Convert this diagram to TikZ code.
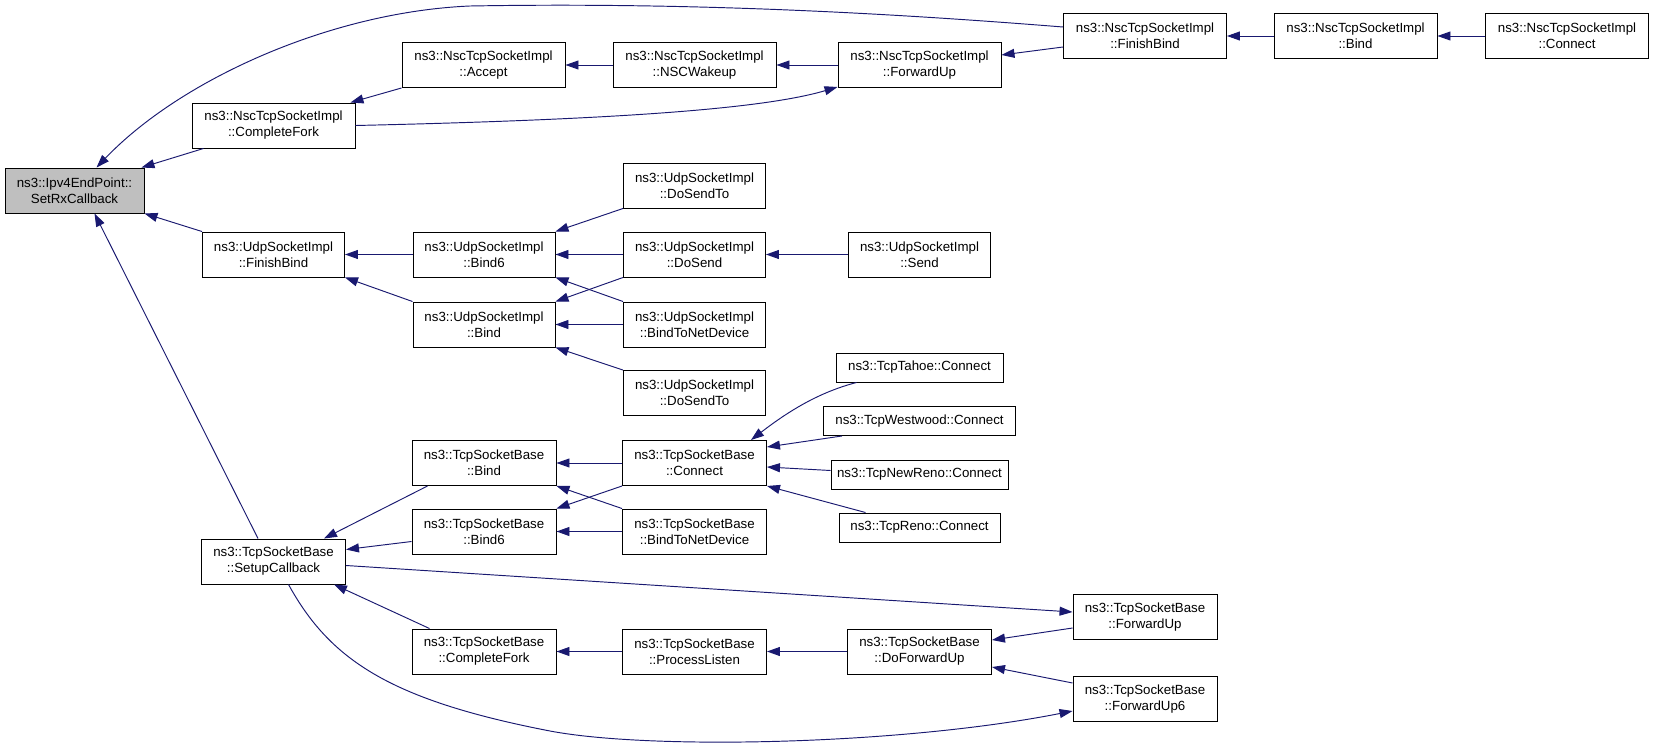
\documentclass[tikz,border=0pt]{standalone}
\usepackage{fontspec}
\setmainfont{Liberation Sans}
\usetikzlibrary{arrows.meta,calc}
\definecolor{edgeblue}{RGB}{25,25,112}
\definecolor{rootgray}{RGB}{191,191,191}
\begin{document}
\begin{tikzpicture}[x=1pt,y=-1pt,
  box/.style={draw=black, line width=0.95pt, fill=white, align=center, inner sep=0pt,
    font=\fontsize{13.3}{16}\selectfont, minimum height=45pt},
  nsc/.style={box, minimum width=163pt},
  udp/.style={box, minimum width=142pt},
  tcp/.style={box, minimum width=144pt},
  one/.style={box, minimum height=29pt},
  root/.style={box, fill=rootgray, minimum width=139pt},
  edge/.style={draw=edgeblue, line width=0.95pt, -{Triangle[length=13pt,width=9pt]}}]
\useasboundingbox (0,0) rectangle (1653,752);
% root
\node[root] (setrx) at (74.5,190.5) {ns3::Ipv4EndPoint::\\SetRxCallback};
% Nsc branch
\node[nsc] (nsccf) at (273.5,125.5) {ns3::NscTcpSocketImpl\\::CompleteFork};
\node[nsc] (nscacc) at (483.5,65) {ns3::NscTcpSocketImpl\\::Accept};
\node[nsc] (nscwake) at (694.5,65) {ns3::NscTcpSocketImpl\\::NSCWakeup};
\node[nsc] (nscfwd) at (919.5,65) {ns3::NscTcpSocketImpl\\::ForwardUp};
\node[nsc] (nscfb) at (1145,36) {ns3::NscTcpSocketImpl\\::FinishBind};
\node[nsc] (nscbind) at (1355.5,36) {ns3::NscTcpSocketImpl\\::Bind};
\node[nsc] (nscconn) at (1567,36) {ns3::NscTcpSocketImpl\\::Connect};
% Udp branch
\node[udp] (udpfb) at (273.5,254.5) {ns3::UdpSocketImpl\\::FinishBind};
\node[udp] (udpbind6) at (484,254.5) {ns3::UdpSocketImpl\\::Bind6};
\node[udp] (udpbind) at (484,324.5) {ns3::UdpSocketImpl\\::Bind};
\node[udp] (udpdst) at (694.5,185.5) {ns3::UdpSocketImpl\\::DoSendTo};
\node[udp] (udpds) at (694.5,254.5) {ns3::UdpSocketImpl\\::DoSend};
\node[udp] (udpbnd) at (694.5,324.5) {ns3::UdpSocketImpl\\::BindToNetDevice};
\node[udp] (udpdst2) at (694.5,393) {ns3::UdpSocketImpl\\::DoSendTo};
\node[udp] (udpsend) at (919.5,254.5) {ns3::UdpSocketImpl\\::Send};
% Tcp branch
\node[tcp] (tcpsc) at (273.5,561.5) {ns3::TcpSocketBase\\::SetupCallback};
\node[tcp] (tcpbind) at (484,463) {ns3::TcpSocketBase\\::Bind};
\node[tcp] (tcpbind6) at (484,531.5) {ns3::TcpSocketBase\\::Bind6};
\node[tcp] (tcpcf) at (484,651.5) {ns3::TcpSocketBase\\::CompleteFork};
\node[tcp] (tcpconn) at (694.5,463) {ns3::TcpSocketBase\\::Connect};
\node[tcp] (tcpbnd) at (694.5,531.5) {ns3::TcpSocketBase\\::BindToNetDevice};
\node[tcp] (tcppl) at (694.5,651.5) {ns3::TcpSocketBase\\::ProcessListen};
\node[tcp] (tcpdfu) at (919.5,651.5) {ns3::TcpSocketBase\\::DoForwardUp};
\node[tcp] (tcpfu) at (1145,617) {ns3::TcpSocketBase\\::ForwardUp};
\node[tcp] (tcpfu6) at (1145,699) {ns3::TcpSocketBase\\::ForwardUp6};
\node[one, minimum width=167pt] (tahoe) at (919.5,367.5) {ns3::TcpTahoe::Connect};
\node[one, minimum width=192pt] (westwood) at (919.5,421) {ns3::TcpWestwood::Connect};
\node[one, minimum width=177pt] (newreno) at (919.5,474.5) {ns3::TcpNewReno::Connect};
\node[one, minimum width=161pt] (reno) at (919.5,527.5) {ns3::TcpReno::Connect};
% edges: Nsc
\draw[edge] ($(nscfb.west)+(0,-9)$) .. controls (900,14) and (700,2) .. (470,6)
  .. controls (330,12) and (180,80) .. ($(setrx.north)+(22,0)$);
\draw[edge] ($(nsccf.south west)+(12,0)$) -- ($(setrx.north east)+(-3,0)$);
\draw[edge] (nscacc.south west) -- ($(nsccf.north east)+(-5,0)$);
\draw[edge] (nsccf.east) .. controls (600,120) and (760,110) .. ($(nscfwd.south west)+(0,-1)$);
\draw[edge] (nscwake.west) -- (nscacc.east);
\draw[edge] (nscfwd.west) -- (nscwake.east);
\draw[edge] ($(nscfb.west)+(0,11)$) -- ($(nscfwd.east)+(0,-10)$);
\draw[edge] (nscbind.west) -- (nscfb.east);
\draw[edge] (nscconn.west) -- (nscbind.east);
% edges: Udp
\draw[edge] (udpfb.north west) -- (setrx.south east);
\draw[edge] ($(tcpsc.north west)+(57,0)$) -- ($(setrx.south)+(20,0)$);
\draw[edge] (udpbind6.west) -- (udpfb.east);
\draw[edge] (udpbind.north west) -- (udpfb.south east);
\draw[edge] (udpdst.south west) -- (udpbind6.north east);
\draw[edge] (udpds.west) -- (udpbind6.east);
\draw[edge] (udpbnd.north west) -- (udpbind6.south east);
\draw[edge] (udpds.south west) -- (udpbind.north east);
\draw[edge] (udpbnd.west) -- (udpbind.east);
\draw[edge] (udpdst2.north west) -- (udpbind.south east);
\draw[edge] (udpsend.west) -- (udpds.east);
% edges: Tcp
\draw[edge] ($(tcpbind.south west)+(16,0)$) -- ($(tcpsc.north east)+(-22,0)$);
\draw[edge] ($(tcpbind6.west)+(0,10)$) -- ($(tcpsc.east)+(0,-12)$);
\draw[edge] ($(tcpcf.north west)+(18,0)$) -- ($(tcpsc.south east)+(-12,0)$);
\draw[edge] ($(tcpsc.east)+(0,4)$) -- ($(tcpfu.west)+(0,-5)$);
\draw[edge] ($(tcpsc.south)+(15,0)$) .. controls (330,660) and (390,700) .. (550,731)
  .. controls (650,750) and (900,745) .. ($(tcpfu6.west)+(0,12)$);
\draw[edge] (tcpconn.west) -- (tcpbind.east);
\draw[edge] (tcpbnd.north west) -- (tcpbind.south east);
\draw[edge] (tcpconn.south west) -- (tcpbind6.north east);
\draw[edge] (tcpbnd.west) -- (tcpbind6.east);
\draw[edge] ($(tahoe.south west)+(21,0)$) .. controls (820,392) and (790,410) .. ($(tcpconn.north east)+(-16,0)$);
\draw[edge] ($(westwood.south west)+(19,0)$) -- ($(tcpconn.east)+(0,-16)$);
\draw[edge] ($(newreno.west)+(0,-4)$) -- ($(tcpconn.east)+(0,4)$);
\draw[edge] ($(reno.north west)+(27,0)$) -- (tcpconn.south east);
\draw[edge] (tcppl.west) -- (tcpcf.east);
\draw[edge] (tcpdfu.west) -- (tcppl.east);
\draw[edge] ($(tcpfu.west)+(0,11)$) -- ($(tcpdfu.east)+(0,-11.5)$);
\draw[edge] ($(tcpfu6.west)+(0,-16)$) -- ($(tcpdfu.east)+(0,15.5)$);
\end{tikzpicture}
\end{document}
